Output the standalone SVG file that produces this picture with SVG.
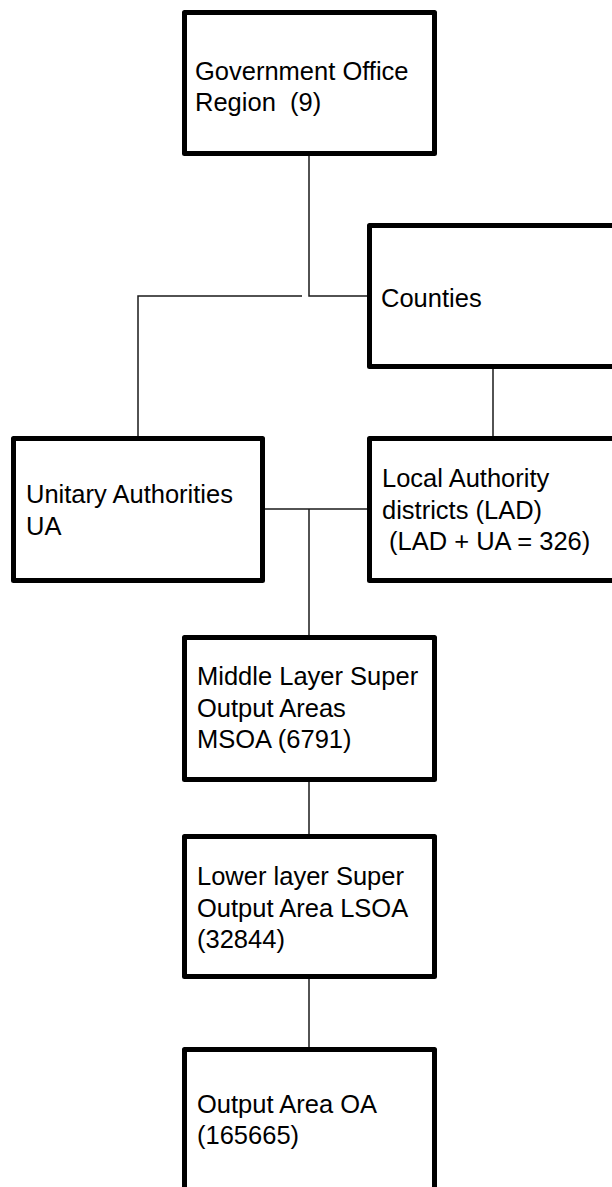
<svg xmlns="http://www.w3.org/2000/svg" width="612" height="1187" viewBox="0 0 612 1187">
  <style>
    .box { fill: #ffffff; stroke: #000000; stroke-width: 5; stroke-linejoin: round; }
    .link { fill: none; stroke: #1a1a1a; stroke-width: 1.5; }
    .label { font-family: "Liberation Sans", Arial, sans-serif; font-size: 25.5px; fill: #000000; white-space: pre; }
  </style>
  <rect width="612" height="1187" fill="#ffffff"/>

  <!-- connectors -->
  <g id="connectors">
    <polyline class="link" points="309,156 309,296 367,296"/>
    <polyline class="link" points="302,296 138,296 138,436"/>
    <line class="link" x1="493" y1="369" x2="493" y2="436"/>
    <line class="link" x1="265" y1="509" x2="367" y2="509"/>
    <line class="link" x1="309" y1="509" x2="309" y2="635"/>
    <line class="link" x1="309" y1="782" x2="309" y2="834"/>
    <line class="link" x1="309" y1="979" x2="309" y2="1047"/>
  </g>

  <!-- nodes -->
  <g id="gor">
    <rect class="box" x="184.5" y="12.5" width="250" height="141"/>
    <text class="label" x="195" y="80">Government Office</text>
    <text class="label" x="195" y="111" xml:space="preserve">Region  (9)</text>
  </g>

  <g id="counties">
    <rect class="box" x="369.5" y="225.5" width="260" height="141"/>
    <text class="label" x="381" y="307">Counties</text>
  </g>

  <g id="ua">
    <rect class="box" x="13.5" y="438.5" width="249" height="142"/>
    <text class="label" x="26" y="503">Unitary Authorities</text>
    <text class="label" x="26" y="535">UA</text>
  </g>

  <g id="lad">
    <rect class="box" x="369.5" y="438.5" width="260" height="142"/>
    <text class="label" x="382" y="487">Local Authority</text>
    <text class="label" x="382" y="519">districts (LAD)</text>
    <text class="label" x="389" y="550">(LAD + UA = 326)</text>
  </g>

  <g id="msoa">
    <rect class="box" x="184.5" y="637.5" width="250" height="142"/>
    <text class="label" x="197" y="685">Middle Layer Super</text>
    <text class="label" x="197" y="717">Output Areas</text>
    <text class="label" x="197" y="748">MSOA (6791)</text>
  </g>

  <g id="lsoa">
    <rect class="box" x="184.5" y="836.5" width="250" height="140"/>
    <text class="label" x="197" y="885">Lower layer Super</text>
    <text class="label" x="197" y="917">Output Area LSOA</text>
    <text class="label" x="197" y="948">(32844)</text>
  </g>

  <g id="oa">
    <rect class="box" x="184.5" y="1049.5" width="250" height="160"/>
    <text class="label" x="197" y="1113">Output Area OA</text>
    <text class="label" x="197" y="1144">(165665)</text>
  </g>
</svg>
